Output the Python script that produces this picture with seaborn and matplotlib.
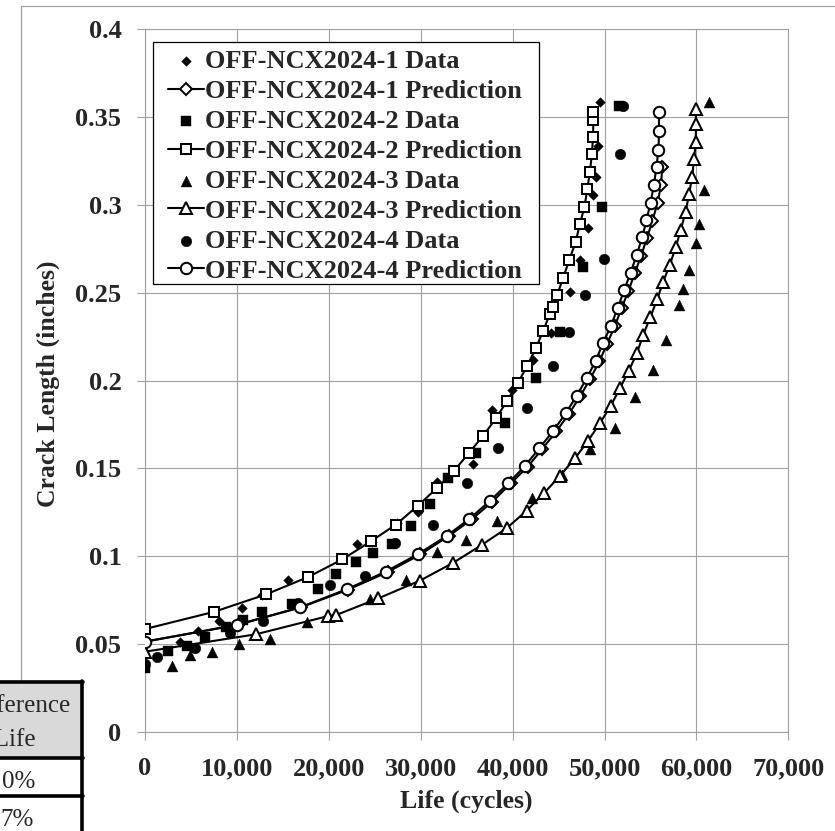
import matplotlib
matplotlib.use("Agg")
import matplotlib.pyplot as plt
import seaborn as sns
from matplotlib.ticker import FuncFormatter, MultipleLocator
from matplotlib.patches import Rectangle
from matplotlib.lines import Line2D

# ---------------- data ----------------
labels = [
    "OFF-NCX2024-1 Data", "OFF-NCX2024-1 Prediction",
    "OFF-NCX2024-2 Data", "OFF-NCX2024-2 Prediction",
    "OFF-NCX2024-3 Data", "OFF-NCX2024-3 Prediction",
    "OFF-NCX2024-4 Data", "OFF-NCX2024-4 Prediction",
]

d1_x = [3810, 5800, 8090, 10520, 12700, 15590, 23020, 24750, 27370, 29730, 31760,
        35700, 37770, 39890, 42170, 44230, 46240, 47320, 48220, 48770, 49060, 49310, 49490]
d1_y = [0.0514, 0.0576, 0.063, 0.0704, 0.0779, 0.0865, 0.1067, 0.108, 0.1187, 0.1253, 0.1424,
        0.1526, 0.1834, 0.1945, 0.2116, 0.2268, 0.2505, 0.2685, 0.2869, 0.3058, 0.3159, 0.3333, 0.3585]

p1_x = [0, 10080, 17000, 22100, 26400, 29950, 33050, 35550, 37800, 39800, 41650, 43220,
        44750, 46130, 47350, 48450, 49450, 50300, 51120, 51850, 52600, 53300, 53980, 54620,
        55220, 55770, 56150, 56280]
p1_y = [0.0514, 0.061, 0.071, 0.081, 0.091, 0.101, 0.1115, 0.121, 0.131, 0.1415, 0.151, 0.161,
        0.171, 0.181, 0.191, 0.201, 0.211, 0.221, 0.231, 0.241, 0.251, 0.261, 0.271, 0.281,
        0.291, 0.301, 0.311, 0.3214]

d2_x = [0, 2530, 4530, 6530, 8810, 10630, 12700, 15960, 18850, 20780, 22950, 24830, 26920,
        28900, 30990, 32990, 36040, 39160, 42600, 45140, 47620, 49780, 51630]
d2_y = [0.0362, 0.0462, 0.049, 0.0538, 0.0599, 0.0637, 0.068, 0.0728, 0.0812, 0.0901, 0.0969,
        0.1017, 0.1067, 0.117, 0.13, 0.1443, 0.1587, 0.176, 0.2012, 0.2274, 0.2647, 0.2988, 0.3563]

p2_x = [0, 7530, 13170, 17760, 21460, 24580, 27300, 29660, 31730, 33610, 35210, 36800, 38180,
        39410, 40550, 41590, 42520, 43330, 44060, 44350, 44850, 45500, 46160, 46850, 47310,
        47820, 48120, 48410, 48630, 48750, 48790, 48800]
p2_y = [0.0586, 0.0684, 0.0783, 0.0882, 0.0982, 0.1085, 0.118, 0.1286, 0.1386, 0.1485, 0.1585,
        0.1686, 0.1784, 0.1885, 0.1983, 0.2084, 0.2183, 0.2283, 0.238, 0.242, 0.2486, 0.2584,
        0.2685, 0.2786, 0.2888, 0.2988, 0.3087, 0.3187, 0.3286, 0.3386, 0.348, 0.3529]

d3_x = [2900, 4890, 7250, 10200, 13560, 17600, 24470, 28400, 31780, 34960, 38260, 42060, 45330,
        48410, 51130, 53300, 55290, 56670, 58130, 58560, 59210, 59930, 60290, 60800, 61350]
d3_y = [0.0375, 0.0438, 0.0457, 0.0503, 0.053, 0.0625, 0.0755, 0.0865, 0.1022, 0.1092, 0.1202,
        0.1329, 0.1462, 0.1608, 0.1731, 0.1907, 0.2059, 0.223, 0.2429, 0.2518, 0.2628, 0.2783,
        0.2893, 0.3083, 0.3585]

p3_x = [0, 12070, 19950, 20780, 25370, 29910, 33540, 36630, 39340, 41520, 43400, 45130, 46780,
        48220, 49490, 50660, 51670, 52640, 53520, 54200, 55000, 55730, 56380, 57120, 57770,
        58310, 58820, 59210, 59530, 59750, 59930, 59950, 59940]
p3_y = [0.0457, 0.0556, 0.066, 0.0665, 0.076, 0.0861, 0.0963, 0.1064, 0.1159, 0.1259, 0.1358,
        0.1456, 0.1557, 0.1657, 0.1756, 0.1854, 0.1955, 0.2055, 0.2154, 0.2258, 0.2362, 0.2461,
        0.2561, 0.266, 0.2761, 0.2859, 0.296, 0.306, 0.3159, 0.3258, 0.3358, 0.3462, 0.3544]

d4_x = [0, 1270, 5440, 9240, 12870, 16680, 20090, 23930, 27190, 31360, 34990, 38430, 41520,
        44350, 46160, 47870, 49930, 51670, 52050]
d4_y = [0.0385, 0.0428, 0.0476, 0.0566, 0.063, 0.0736, 0.0836, 0.089, 0.1075, 0.1177, 0.1418,
        0.1614, 0.1841, 0.2082, 0.2274, 0.2486, 0.2689, 0.329, 0.3563]

p4_x = [0, 9970, 16860, 21940, 26180, 29730, 32810, 35280, 37520, 39520, 41340, 42890, 44410,
        45770, 46960, 48050, 49030, 49850, 50690, 51420, 52140, 52840, 53490, 54100, 54570,
        55010, 55370, 55660, 55870, 55940, 55910]
p4_y = [0.0514, 0.0609, 0.0709, 0.0812, 0.0912, 0.1013, 0.1115, 0.1212, 0.1314, 0.1415, 0.1513,
        0.1614, 0.1712, 0.1813, 0.1911, 0.2012, 0.211, 0.2215, 0.231, 0.241, 0.2514, 0.2613,
        0.2713, 0.2814, 0.2912, 0.3011, 0.3111, 0.3216, 0.3314, 0.3419, 0.3529]

table_header = ["% Difference", "in Life"]
table_values = ["0%", "7%"]

# ---------------- style ----------------
sns.set_style("white")
plt.rcParams["font.family"] = ["Liberation Serif", "DejaVu Serif"]

W, H = 835, 831
fig = plt.figure(figsize=(W / 100, H / 100), dpi=100)
ax_l, ax_r, ax_t, ax_b = 145, 788.3, 29, 732
ax = fig.add_axes([ax_l / W, 1 - ax_b / H, (ax_r - ax_l) / W, (ax_b - ax_t) / H])

GRID = "#a0a0a0"

series = [
    (d1_x, d1_y, "D", 24, None),
    (p1_x, p1_y, "D", None, 5.8),
    (d2_x, d2_y, "s", 56, None),
    (p2_x, p2_y, "s", None, 7.9),
    (d3_x, d3_y, "^", 62, None),
    (p3_x, p3_y, "^", None, 8.8),
    (d4_x, d4_y, "o", 58, None),
    (p4_x, p4_y, "o", None, 8.2),
]

for i, (xs, ys, mk, s, ms) in enumerate(series):
    if s is not None:
        sns.scatterplot(x=xs, y=ys, marker=mk, s=s, color="black", edgecolor="black",
                        linewidth=0.3, ax=ax, label=labels[i], zorder=3 + i, legend=False)
    else:
        sns.lineplot(x=xs, y=ys, marker=mk, markersize=ms, markerfacecolor="white",
                     markeredgecolor="black", markeredgewidth=1.45, color="black",
                     linewidth=1.5, sort=False, estimator=None, ax=ax, label=labels[i],
                     zorder=3 + i, legend=False)

ax.set_xlim(0, 70000)
ax.set_ylim(0, 0.4)
ax.xaxis.set_major_locator(MultipleLocator(10000))
ax.yaxis.set_major_locator(MultipleLocator(0.05))
ax.xaxis.set_major_formatter(FuncFormatter(lambda v, p: f"{int(round(v)):,}"))
ax.yaxis.set_major_formatter(FuncFormatter(lambda v, p: "%g" % round(v, 3)))
ax.grid(True, color=GRID, linewidth=0.8)
ax.set_axisbelow(True)
for sp in ax.spines.values():
    sp.set_color(GRID)
    sp.set_linewidth(0.8)
ax.tick_params(axis="both", direction="out", length=6, width=0.8, color=GRID,
               labelsize=19, bottom=True, left=True)
ax.tick_params(axis="y", pad=11)
ax.tick_params(axis="x", pad=12)
for lab in ax.get_xticklabels() + ax.get_yticklabels():
    lab.set_fontweight("bold")

ax.set_xlabel("Life (cycles)", fontsize=18.5, fontweight="bold")
ax.set_ylabel("Crack Length (inches)", fontsize=18.5, fontweight="bold")
ax.xaxis.set_label_coords(0.5, (ax_b - 801) / (ax_b - ax_t))
ax.xaxis.label.set_va("center")
ax.yaxis.set_label_coords((48 - ax_l) / (ax_r - ax_l), (ax_b - 384) / (ax_b - ax_t))
ax.yaxis.label.set_va("center")


def axx(px):
    return (px - ax_l) / (ax_r - ax_l)


def axy(py):
    return (ax_b - py) / (ax_b - ax_t)


# legend frame drawn as its own box, entries placed inside it
ax.add_patch(Rectangle((axx(153), axy(284)), axx(539) - axx(153), axy(42) - axy(284),
                       transform=ax.transAxes, facecolor="white", edgecolor="black",
                       linewidth=0.9, zorder=18, clip_on=False))

h, l = ax.get_legend_handles_labels()
hmap = dict(zip(l, h))
leg = ax.legend([hmap[k] for k in labels], labels, loc="upper left",
                bbox_to_anchor=(axx(168), axy(49.5)),
                borderaxespad=0, frameon=False,
                prop={"family": "Liberation Serif", "weight": "bold", "size": 19},
                borderpad=0, labelspacing=0.245, handlelength=1.35, handletextpad=0.06,
                scatterpoints=1)
leg.set_zorder(20)

# ---------------- outer chart-area border ----------------
def fx(px):
    return px / W


def fy(py):
    return 1 - py / H


fig.add_artist(Line2D([fx(20.7), fx(20.7)], [fy(6), fy(900)], color=GRID, lw=0.9,
                      transform=fig.transFigure))
fig.add_artist(Line2D([fx(20.7), fx(900)], [fy(6), fy(6)], color=GRID, lw=0.9,
                      transform=fig.transFigure))

# ---------------- partial table at bottom-left ----------------
fig.add_artist(Rectangle((fx(-20), fy(758)), fx(101.5), fy(682) - fy(758),
                         transform=fig.transFigure, facecolor="#d9d9d9", edgecolor="none", zorder=5))
fig.add_artist(Rectangle((fx(-20), fy(900)), fx(101.5), fy(758) - fy(900),
                         transform=fig.transFigure, facecolor="white", edgecolor="none", zorder=5))
for yy in (682, 758, 795.5):
    fig.add_artist(Line2D([fx(-20), fx(83.3)], [fy(yy), fy(yy)], color="black", lw=2.6,
                          transform=fig.transFigure, zorder=6))
fig.add_artist(Line2D([fx(81.6), fx(81.6)], [fy(680.5), fy(900)], color="black", lw=2.6,
                      transform=fig.transFigure, zorder=6))

tkw = dict(ha="right", va="baseline", fontsize=18, fontweight="normal",
           family="Liberation Serif", zorder=7)
fig.text(fx(70.5), fy(712.5), table_header[0], **tkw)
fig.text(fx(35.5), fy(746.5), table_header[1], **tkw)
fig.text(fx(35.5), fy(787.5), table_values[0], **tkw)
fig.text(fx(34), fy(826.5), table_values[1], **tkw)

fig.savefig("out.png", dpi=100)
